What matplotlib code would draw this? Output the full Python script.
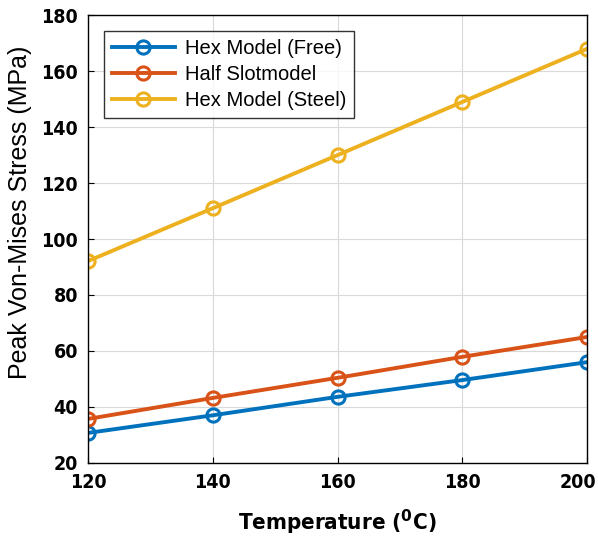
import matplotlib.pyplot as plt
from matplotlib.font_manager import FontProperties
from matplotlib.transforms import ScaledTranslation

temps = [120, 140, 160, 180, 200]
hex_free = [30.7, 37.0, 43.6, 49.6, 56.0]
half_slot = [35.7, 43.2, 50.4, 57.9, 65.0]
hex_steel = [92.1, 111.0, 130.0, 149.0, 168.0]
labels = ['Hex Model (Free)', 'Half Slotmodel', 'Hex Model (Steel)']
colors = ['#0072BD', '#D95319', '#EDB120']

tick_font = FontProperties(family='DejaVu Sans', weight='bold', stretch='condensed', size=14)

fig = plt.figure(figsize=(5.98, 5.42), dpi=100)
ax = fig.add_axes([0.147, 0.146, 0.835, 0.826])

for ys, lab, c in zip([hex_free, half_slot, hex_steel], labels, colors):
    ax.plot(temps, ys, '-o', color=c, linewidth=2.8, markersize=9.5,
            markerfacecolor='none', markeredgewidth=2.2, label=lab)

ax.set_xlim(120, 200)
ax.set_ylim(20, 180)
ax.set_xticks([120, 140, 160, 180, 200])
ax.set_yticks(range(20, 181, 20))
ax.grid(True, color='#d9d9d9', linewidth=0.8)
ax.tick_params(direction='in', length=4, pad=7)
for lbl in ax.get_xticklabels() + ax.get_yticklabels():
    lbl.set_fontproperties(tick_font)
for s in ax.spines.values():
    s.set_linewidth(1.0)

# keep the last x tick label inside the figure
last = ax.get_xticklabels()[-1]
last.set_transform(last.get_transform() + ScaledTranslation(-0.09, 0, fig.dpi_scale_trans))

ax.set_xlabel('Temperature ($^{\\mathbf{0}}$C)',
              fontproperties=FontProperties(family='DejaVu Sans', weight='bold',
                                            stretch='condensed', size=16),
              labelpad=12)
ax.set_ylabel('Peak Von-Mises Stress (MPa)', fontsize=18,
              family=['Liberation Sans', 'DejaVu Sans'])
ax.yaxis.set_label_coords(-0.112, 0.56)

leg = ax.legend(loc='upper left', frameon=True, fancybox=False,
                edgecolor='black', handlelength=3.1, borderaxespad=0.8,
                handletextpad=0.5, labelspacing=0.35,
                prop={'family': ['Liberation Sans', 'DejaVu Sans'], 'size': 14.5})
leg.get_frame().set_linewidth(1.0)

plt.savefig('out.png', dpi=100, facecolor='white')
